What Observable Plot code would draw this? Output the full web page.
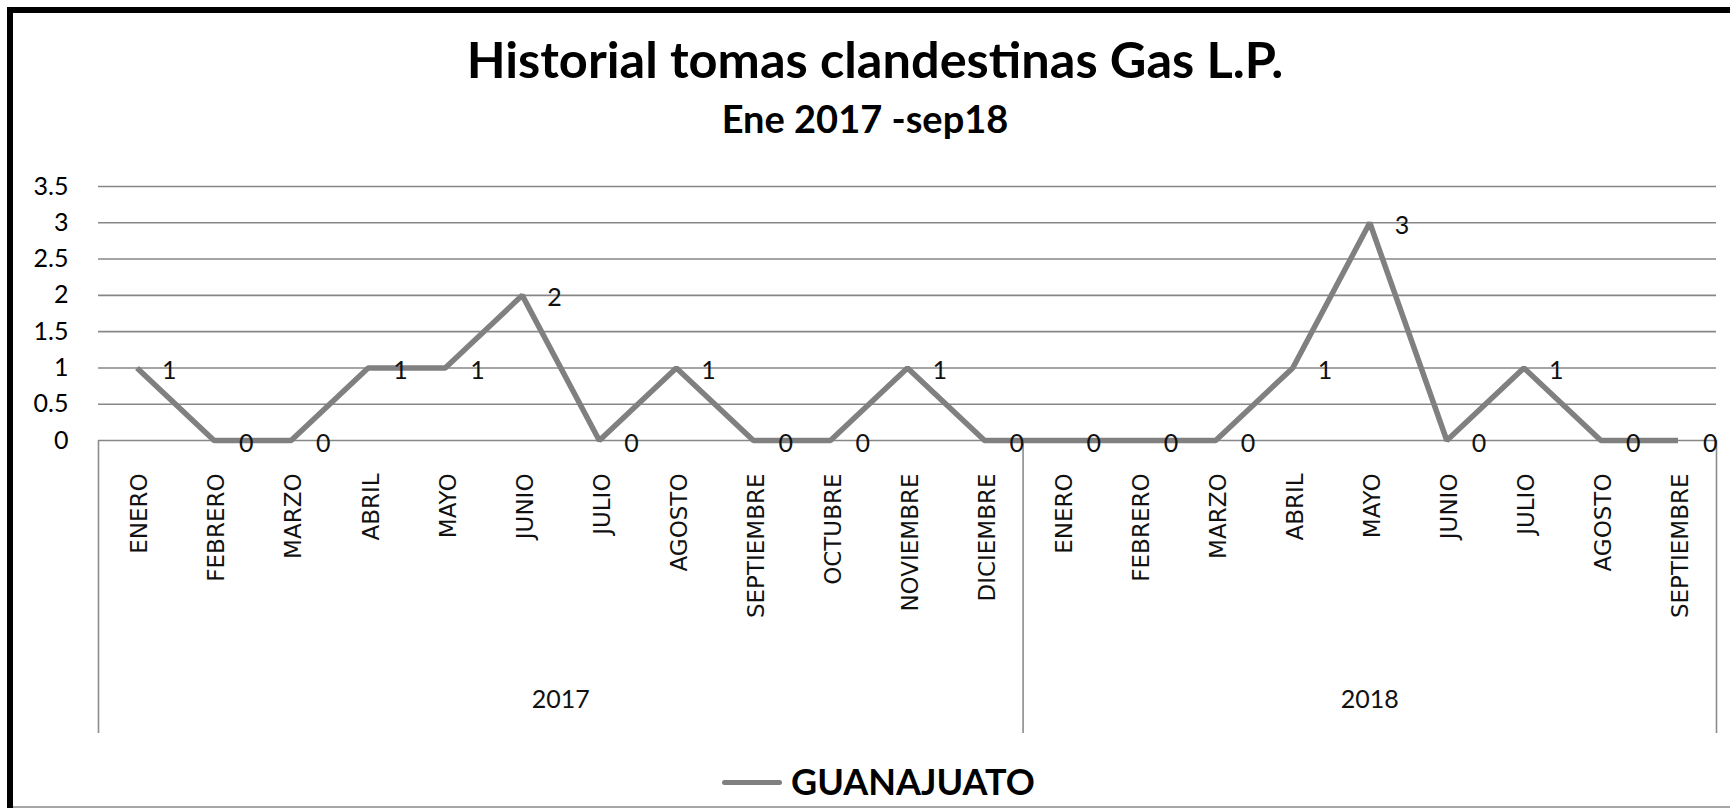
<!DOCTYPE html>
<html>
<head>
<meta charset="utf-8">
<script src="https://cdn.jsdelivr.net/npm/d3@7"></script>
<script src="https://cdn.jsdelivr.net/npm/@observablehq/plot@0.6"></script>
<style>
  html, body { margin: 0; padding: 0; background: #fff; overflow: hidden; }
  #wrap { position: relative; width: 1730px; height: 808px; background: #fff; }
  #chart { position: absolute; left: 0; top: 0; }
  .title { position: absolute; left: 0; width: 1750px; text-align: center; font-family: Lato, "Open Sans", sans-serif; font-weight: bold; color: #000; line-height: 1; white-space: nowrap; }
  #frame { position: absolute; left: 7px; top: 7px; width: 1730px; height: 900px; border-left: 6px solid #000; border-top: 6px solid #000; z-index: 5; pointer-events: none; }
  #bottomline { position: absolute; left: 13px; top: 806px; width: 1717px; height: 2px; background: #a6a6a6; z-index: 5; }
  #legend { position: absolute; left: 722px; top: 763px; font-family: Lato, sans-serif; font-weight: bold; font-size: 36px; line-height: 1; color: #000; white-space: nowrap; }
  #legend .sw { position: absolute; left: 0; top: 17px; width: 60px; height: 5px; border-radius: 3px; background: #808080; }
  #legend .lab { position: absolute; left: 69px; top: 0; }
</style>
</head>
<body>
<div id="wrap">
  <div class="title" id="t1" style="top:34px;font-size:50.5px;"></div>
  <div class="title" id="t2" style="top:99px;font-size:38px;left:-10px;"></div>
  <div id="chart"></div>
  <div id="legend"><span class="sw"></span><span class="lab"></span></div>
  <div id="frame"></div>
  <div id="bottomline"></div>
</div>
<script>
// ---- data ----
const titleText = "Historial tomas clandestinas Gas L.P.";
const subtitleText = "Ene 2017 -sep18";
const seriesName = "GUANAJUATO";
const years = ["2017", "2018"];
const months2017 = ["ENERO","FEBRERO","MARZO","ABRIL","MAYO","JUNIO","JULIO","AGOSTO","SEPTIEMBRE","OCTUBRE","NOVIEMBRE","DICIEMBRE"];
const months2018 = ["ENERO","FEBRERO","MARZO","ABRIL","MAYO","JUNIO","JULIO","AGOSTO","SEPTIEMBRE"];
const values2017 = [1,0,0,1,1,2,0,1,0,0,1,0];
const values2018 = [0,0,0,1,3,0,1,0,0];
const yTicks = [0, 0.5, 1, 1.5, 2, 2.5, 3, 3.5];

// ---- build table ----
const data = [
  ...months2017.map((m, k) => ({i: k, month: m, year: years[0], v: values2017[k]})),
  ...months2018.map((m, k) => ({i: months2017.length + k, month: m, year: years[1], v: values2018[k]}))
];
const n = data.length;
const groups = [
  {year: years[0], start: -0.5, end: months2017.length - 0.5},
  {year: years[1], start: months2017.length - 0.5, end: n - 0.5}
];
const boundaries = [groups[0].start, groups[0].end, groups[1].end];

document.getElementById("t1").textContent = titleText;
document.getElementById("t2").textContent = subtitleText;
document.querySelector("#legend .lab").textContent = seriesName;

const chart = Plot.plot({
  width: 1730,
  height: 745,
  marginLeft: 98,
  marginRight: 14,
  marginTop: 186,
  marginBottom: 12,
  style: {background: "transparent", fontFamily: "Lato, sans-serif", fontSize: "25px", color: "#000", overflow: "visible"},
  x: {domain: [-0.5, n - 0.5], axis: null},
  y: {domain: [0, 3.5], range: [440, 186], ticks: yTicks, tickSize: 0, tickPadding: 30, tickFormat: d => String(d), label: null},
  marks: [
    Plot.ruleY(yTicks, {stroke: "#878787", strokeWidth: 1.6}),
    Plot.ruleX(boundaries, {stroke: "#8c8c8c", strokeWidth: 1.6, insetTop: 254}),
    Plot.line(data, {x: "i", y: "v", stroke: "#808080", strokeWidth: 5.5, strokeLinejoin: "miter", strokeLinecap: "butt"}),
    Plot.text(data, {x: "i", y: "v", text: d => String(d.v), textAnchor: "start", dx: 25, dy: 3, fontSize: 25, fontFamily: "Lato, sans-serif", fill: "#111"}),
    Plot.text(data, {x: "i", y: d => 0, text: "month", rotate: -90, textAnchor: "end", lineAnchor: "middle", dx: 3, dy: 33, fontSize: 23, fontFamily: "DejaVu Sans, sans-serif", fill: "#111"}),
    Plot.text(groups, {x: d => (d.start + d.end) / 2, y: d => 0, text: "year", dy: 259, fontSize: 25, fontFamily: "Lato, sans-serif", fill: "#111"})
  ]
});
document.getElementById("chart").appendChild(chart);
</script>
</body>
</html>
